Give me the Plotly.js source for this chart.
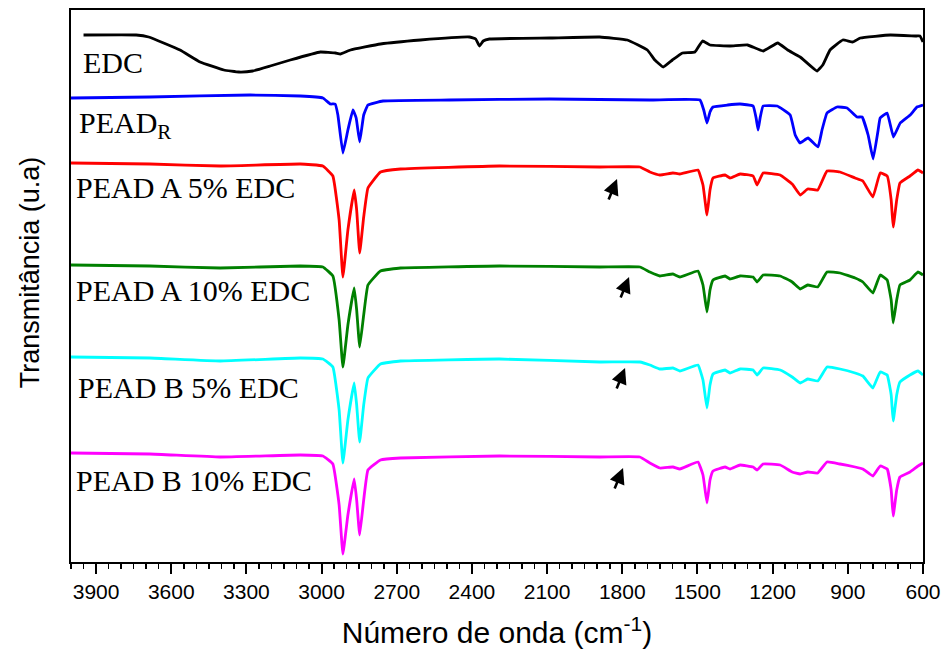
<!DOCTYPE html>
<html>
<head>
<meta charset="utf-8">
<script src="https://cdn.plot.ly/plotly-3.0.1.min.js"></script>
<style>html,body{margin:0;padding:0;background:#fff;}#chart{width:946px;height:653px;}</style>
</head>
<body>
<div id="chart"></div>
<script>
// ---- Data (wavenumber in cm^-1, transmittance in arbitrary, stacked units) ----
const wnEDC = [3950,3740,3690,3565,3485,3390,3330,3275,3205,3125,3005,2945,2925,2885,2765,2605,2410,2385,2370,2355,2330,2090,1890,1780,1700,1670,1637,1600,1560,1510,1480,1450,1370,1300,1238,1180,1140,1090,1023,1000,971,920,880,850,730,625,612,600];
const tEDC = [5.27,5.27,5.25,5.12,5.00,4.92,4.90,4.91,4.96,5.02,5.10,5.09,5.08,5.12,5.18,5.22,5.25,5.23,5.16,5.21,5.23,5.24,5.25,5.22,5.12,5.02,4.95,5.02,5.09,5.10,5.21,5.17,5.16,5.17,5.11,5.19,5.12,5.05,4.91,4.97,5.12,5.22,5.20,5.24,5.27,5.26,5.26,5.20];

const wnPEADR = [4000,3685,3285,3085,2995,2965,2946,2935,2915,2895,2875,2862,2848,2832,2815,2755,2490,2090,1690,1490,1475,1462,1450,1438,1380,1330,1278,1266,1258,1250,1238,1182,1130,1110,1091,1059,1019,1003,983,943,903,863,843,819,799,779,771,743,718,691,651,624,600];
const tPEADR = [4.64,4.65,4.67,4.66,4.64,4.58,4.58,4.47,4.09,4.32,4.52,4.44,4.20,4.47,4.57,4.61,4.62,4.63,4.62,4.62,4.52,4.39,4.50,4.55,4.57,4.58,4.56,4.44,4.32,4.44,4.56,4.56,4.47,4.27,4.19,4.24,4.15,4.32,4.49,4.55,4.54,4.45,4.45,4.27,4.03,4.32,4.44,4.49,4.25,4.39,4.47,4.55,4.57];

const wnBlend = [4000,3685,3405,3085,2995,2955,2930,2915,2895,2870,2860,2848,2832,2815,2765,2685,2290,1890,1730,1690,1650,1598,1570,1498,1478,1462,1450,1438,1390,1370,1330,1278,1262,1238,1170,1122,1090,1060,1020,983,931,871,840,800,771,743,727,719,705,692,652,620,600];
const tA5 = [3.99,3.98,3.96,3.98,3.96,3.86,3.42,2.85,3.32,3.72,3.52,3.09,3.45,3.74,3.90,3.93,3.96,3.95,3.95,3.90,3.87,3.89,3.88,3.92,3.77,3.47,3.72,3.84,3.87,3.84,3.88,3.86,3.77,3.89,3.87,3.78,3.67,3.73,3.72,3.91,3.90,3.84,3.81,3.65,3.89,3.86,3.62,3.35,3.62,3.79,3.86,3.92,3.89];
const tA10 = [2.97,2.96,2.94,2.96,2.95,2.86,2.42,1.95,2.37,2.74,2.52,2.15,2.47,2.77,2.91,2.94,2.96,2.95,2.95,2.90,2.86,2.88,2.85,2.91,2.77,2.50,2.72,2.82,2.86,2.83,2.86,2.85,2.80,2.87,2.86,2.80,2.73,2.77,2.75,2.90,2.89,2.84,2.80,2.69,2.87,2.82,2.62,2.39,2.62,2.77,2.82,2.90,2.87];
const tB5 = [2.05,2.04,2.01,2.04,2.03,1.95,1.52,0.99,1.42,1.79,1.57,1.20,1.57,1.84,1.98,2.01,2.03,2.00,2.00,1.97,1.93,1.94,1.91,1.97,1.82,1.54,1.77,1.88,1.92,1.89,1.93,1.92,1.87,1.94,1.92,1.85,1.79,1.83,1.81,1.95,1.93,1.89,1.86,1.74,1.90,1.87,1.67,1.41,1.67,1.80,1.87,1.91,1.87];
const tB10 = [1.09,1.08,1.05,1.07,1.06,0.98,0.57,0.08,0.47,0.83,0.62,0.27,0.62,0.92,1.02,1.04,1.06,1.05,1.05,0.99,0.94,0.95,0.93,1.00,0.87,0.59,0.82,0.91,0.95,0.93,0.97,0.95,0.92,0.98,0.97,0.90,0.88,0.90,0.89,1.00,0.98,0.95,0.93,0.86,0.96,0.93,0.72,0.46,0.72,0.85,0.90,0.96,0.99];

const seriesNames = ["EDC","PEAD<sub>R</sub>","PEAD A 5% EDC","PEAD A 10% EDC","PEAD B 5% EDC","PEAD B 10% EDC"];
const seriesColors = ["#000000","#0000ff","#ff0000","#008000","#00ffff","#ff00ff"];
// arrows (wavenumber, transmittance of arrow tip)
const arrowWn = [1821,1773,1789,1797];
const arrowT = [3.83,2.85,1.94,0.94];

const xs = [wnEDC, wnPEADR, wnBlend, wnBlend, wnBlend, wnBlend];
const ys = [tEDC, tPEADR, tA5, tA10, tB5, tB10];

const traces = xs.map((x, i) => ({
  type: 'scatter', mode: 'lines', x: x, y: ys[i], name: seriesNames[i],
  line: {color: seriesColors[i], width: 2.8, shape: 'spline', smoothing: 0.3},
  hoverinfo: 'skip', showlegend: false
}));

const labelPos = [
  {x: 0.012, y: 0.904},
  {x: 0.007, y: 0.792},
  {x: 0.004, y: 0.678},
  {x: 0.004, y: 0.492},
  {x: 0.006, y: 0.317},
  {x: 0.004, y: 0.147}
];
const annotations = seriesNames.map((n, i) => ({
  xref: 'paper', yref: 'paper', x: labelPos[i].x, y: labelPos[i].y,
  xanchor: 'left', yanchor: 'middle', text: n, showarrow: false,
  font: {family: 'Liberation Serif, Times New Roman, serif', size: 30, color: '#000'}
}));
arrowWn.forEach((w, i) => {
  annotations.push({
    xref: 'x', yref: 'y', x: w, y: arrowT[i], text: '', showarrow: true,
    ax: -9, ay: 22, arrowhead: 2, arrowsize: 1.2, arrowwidth: 2.6, arrowcolor: '#000'
  });
});
// y-axis title placed as a rotated annotation
annotations.push({
  xref: 'paper', yref: 'paper', x: -0.048, y: 0.525, xanchor: 'center', yanchor: 'middle',
  text: 'Transmitância (u.a)', textangle: -90, showarrow: false,
  font: {family: 'Liberation Sans, Arial, sans-serif', size: 27, color: '#000'}
});

const layout = {
  width: 946, height: 653,
  margin: {l: 71, r: 23, t: 10, b: 91},
  paper_bgcolor: '#fff', plot_bgcolor: '#fff',
  font: {family: 'Liberation Sans, Arial, sans-serif', color: '#000'},
  xaxis: {
    range: [4000, 600], tickmode: 'linear', tick0: 600, dtick: 300,
    ticks: 'outside', ticklen: 10, tickwidth: 2, tickcolor: '#000',
    minor: {ticks: 'outside', tick0: 600, dtick: 50, ticklen: 5, tickwidth: 1.5, tickcolor: '#000'},
    showline: true, linewidth: 2, linecolor: '#000', mirror: true,
    showgrid: false, zeroline: false,
    tickfont: {family: 'Liberation Sans, Arial, sans-serif', size: 21, color: '#000'},
    title: {text: 'Número de onda (cm<sup>-1</sup>)', font: {family: 'Liberation Sans, Arial, sans-serif', size: 30, color: '#000'}, standoff: 20},
    automargin: false
  },
  xaxis2: {
    overlaying: 'x', side: 'top', anchor: 'y', range: [4000, 600], tickmode: 'linear', tick0: 600, dtick: 300,
    ticks: 'outside', ticklen: 3, tickwidth: 1.5, tickcolor: '#000', showticklabels: false,
    minor: {ticks: 'outside', tick0: 600, dtick: 50, ticklen: 2, tickwidth: 1, tickcolor: '#000'},
    showgrid: false, zeroline: false, showline: false
  },
  yaxis: {
    range: [0, 5.52], showticklabels: false, ticks: '',
    showline: true, linewidth: 2, linecolor: '#000', mirror: true,
    showgrid: false, zeroline: false,
    automargin: false
  },
  annotations: annotations,
  showlegend: false
};

Plotly.newPlot('chart', traces, layout, {displayModeBar: false, staticPlot: true});
</script>
</body>
</html>
